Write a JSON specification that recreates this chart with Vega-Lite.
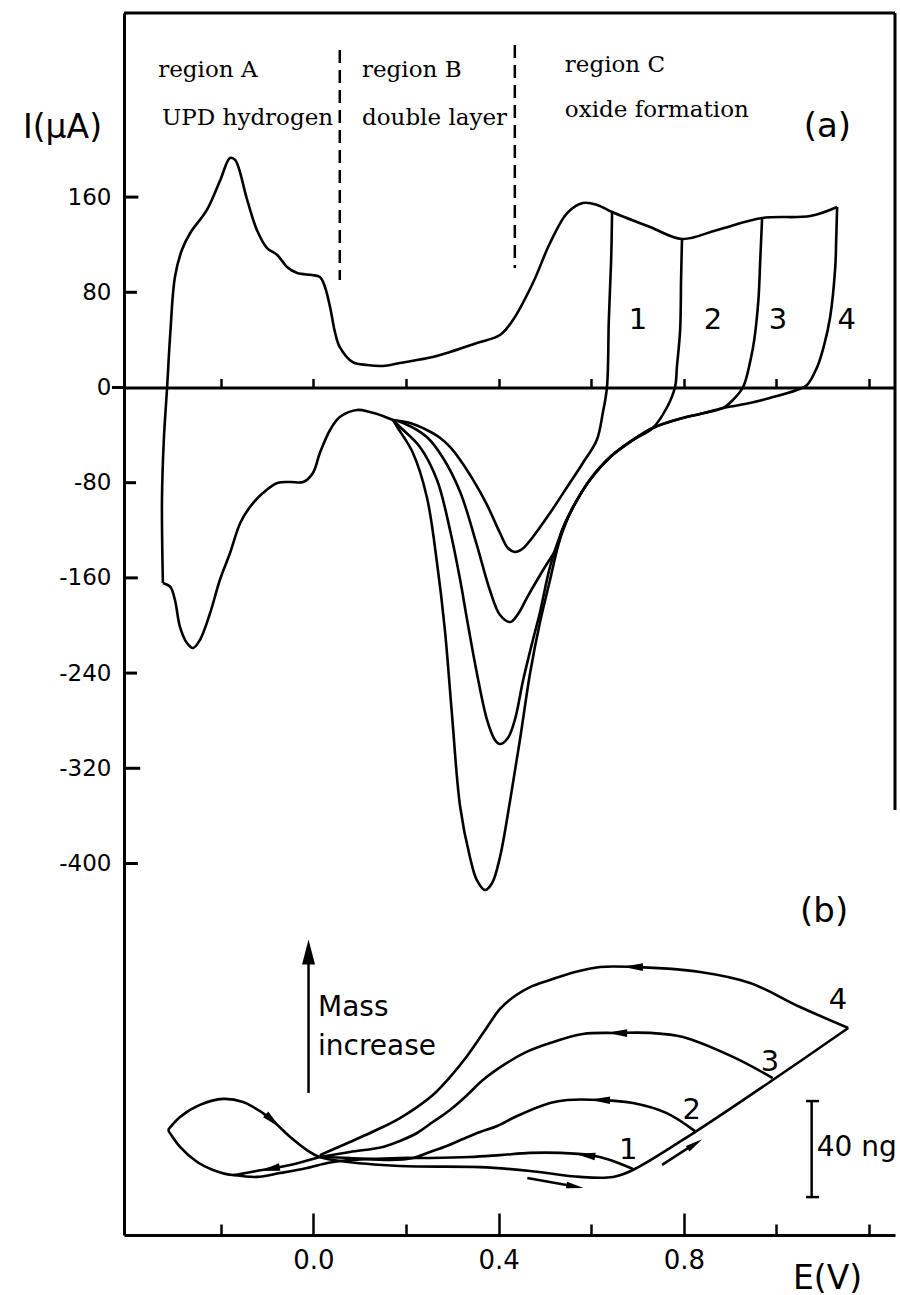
{
  "$schema": "https://vega.github.io/schema/vega-lite/v6.json",
  "width": 771,
  "height": 1222,
  "autosize": {"type": "none"},
  "padding": {"left": 124, "top": 13, "right": 5, "bottom": 60},
  "background": "white",
  "config": {"view": {"stroke": null}, "font": "DejaVu Sans"},
  "datasets": {
    "cv": [
      {"s":"an","o":0,"E":-0.325,"I":-164.3},{"s":"an","o":1,"E":-0.327,"I":-94.5},{"s":"an","o":2,"E":-0.323,"I":-44.1},{"s":"an","o":3,"E":-0.316,"I":-0.4},{"s":"an","o":4,"E":-0.309,"I":45.8},{"s":"an","o":5,"E":-0.299,"I":92.9},{"s":"an","o":6,"E":-0.284,"I":115.5},{"s":"an","o":7,"E":-0.266,"I":129.8},{"s":"an","o":8,"E":-0.230,"I":149.2},{"s":"an","o":9,"E":-0.201,"I":174.4},{"s":"an","o":10,"E":-0.180,"I":192.9},{"s":"an","o":11,"E":-0.169,"I":191.2},{"s":"an","o":12,"E":-0.143,"I":157.6},{"s":"an","o":13,"E":-0.122,"I":132.4},{"s":"an","o":14,"E":-0.100,"I":117.2},{"s":"an","o":15,"E":-0.078,"I":111.3},{"s":"an","o":16,"E":-0.057,"I":101.3},{"s":"an","o":17,"E":-0.035,"I":96.2},{"s":"an","o":18,"E":-0.003,"I":94.5},{"s":"an","o":19,"E":0.014,"I":92.9},{"s":"an","o":20,"E":0.025,"I":84.5},{"s":"an","o":21,"E":0.036,"I":67.6},{"s":"an","o":22,"E":0.047,"I":45.8},{"s":"an","o":23,"E":0.057,"I":34.0},{"s":"an","o":24,"E":0.085,"I":21.4},{"s":"an","o":25,"E":0.116,"I":18.9},{"s":"an","o":26,"E":0.150,"I":18.1},{"s":"an","o":27,"E":0.187,"I":20.6},{"s":"an","o":28,"E":0.258,"I":25.6},{"s":"an","o":29,"E":0.295,"I":29.8},{"s":"an","o":30,"E":0.353,"I":37.4},{"s":"an","o":31,"E":0.403,"I":44.1},{"s":"an","o":32,"E":0.431,"I":56.7},{"s":"an","o":33,"E":0.474,"I":87.8},{"s":"an","o":34,"E":0.511,"I":121.4},{"s":"an","o":35,"E":0.548,"I":146.6},{"s":"an","o":36,"E":0.582,"I":155.0},{"s":"an","o":37,"E":0.613,"I":153.4},{"s":"an","o":38,"E":0.645,"I":147.5},{"s":"an","o":39,"E":0.727,"I":134.9},{"s":"an","o":40,"E":0.796,"I":124.8},{"s":"an","o":41,"E":0.872,"I":132.4},{"s":"an","o":42,"E":0.969,"I":142.4},{"s":"an","o":43,"E":1.073,"I":144.1},{"s":"an","o":44,"E":1.131,"I":151.7},
      {"s":"c1","o":0,"E":0.645,"I":147.5},{"s":"c1","o":1,"E":0.643,"I":107.1},{"s":"c1","o":2,"E":0.638,"I":56.7},{"s":"c1","o":3,"E":0.634,"I":0.4},{"s":"c1","o":4,"E":0.625,"I":-21.4},{"s":"c1","o":5,"E":0.612,"I":-44.1},{"s":"c1","o":6,"E":0.582,"I":-63.4},{"s":"c1","o":7,"E":0.548,"I":-83.6},{"s":"c1","o":8,"E":0.511,"I":-105.5},{"s":"c1","o":9,"E":0.474,"I":-125.6},{"s":"c1","o":10,"E":0.451,"I":-135.7},{"s":"c1","o":11,"E":0.435,"I":-138.2},{"s":"c1","o":12,"E":0.420,"I":-134.9},{"s":"c1","o":13,"E":0.403,"I":-122.3},{"s":"c1","o":14,"E":0.375,"I":-98.7},{"s":"c1","o":15,"E":0.345,"I":-77.7},{"s":"c1","o":16,"E":0.317,"I":-60.9},{"s":"c1","o":17,"E":0.295,"I":-50.0},{"s":"c1","o":18,"E":0.274,"I":-42.4},{"s":"c1","o":19,"E":0.245,"I":-35.7},{"s":"c1","o":20,"E":0.209,"I":-29.8},{"s":"c1","o":21,"E":0.172,"I":-27.3},
      {"s":"c2","o":0,"E":0.796,"I":124.8},{"s":"c2","o":1,"E":0.794,"I":90.3},{"s":"c2","o":2,"E":0.792,"I":48.3},{"s":"c2","o":3,"E":0.785,"I":17.2},{"s":"c2","o":4,"E":0.781,"I":0.4},{"s":"c2","o":5,"E":0.764,"I":-16.4},{"s":"c2","o":6,"E":0.733,"I":-34.0},{"s":"c2","o":7,"E":0.690,"I":-44.1},{"s":"c2","o":8,"E":0.641,"I":-58.4},{"s":"c2","o":9,"E":0.597,"I":-77.7},{"s":"c2","o":10,"E":0.561,"I":-100.4},{"s":"c2","o":11,"E":0.537,"I":-119.7},{"s":"c2","o":12,"E":0.526,"I":-134.0},{"s":"c2","o":13,"E":0.496,"I":-153.4},{"s":"c2","o":14,"E":0.462,"I":-176.1},{"s":"c2","o":15,"E":0.442,"I":-190.3},{"s":"c2","o":16,"E":0.425,"I":-197.1},{"s":"c2","o":17,"E":0.403,"I":-191.2},{"s":"c2","o":18,"E":0.381,"I":-170.2},{"s":"c2","o":19,"E":0.353,"I":-132.4},{"s":"c2","o":20,"E":0.317,"I":-87.8},{"s":"c2","o":21,"E":0.280,"I":-59.2},{"s":"c2","o":22,"E":0.245,"I":-41.6},{"s":"c2","o":23,"E":0.194,"I":-29.8},{"s":"c2","o":24,"E":0.172,"I":-27.3},
      {"s":"c3","o":0,"E":0.969,"I":142.4},{"s":"c3","o":1,"E":0.965,"I":107.1},{"s":"c3","o":2,"E":0.961,"I":73.5},{"s":"c3","o":3,"E":0.952,"I":39.9},{"s":"c3","o":4,"E":0.944,"I":23.1},{"s":"c3","o":5,"E":0.928,"I":0.4},{"s":"c3","o":6,"E":0.906,"I":-10.5},{"s":"c3","o":7,"E":0.885,"I":-17.2},{"s":"c3","o":8,"E":0.835,"I":-22.3},{"s":"c3","o":9,"E":0.798,"I":-25.6},{"s":"c3","o":10,"E":0.733,"I":-34.0},{"s":"c3","o":11,"E":0.690,"I":-44.1},{"s":"c3","o":12,"E":0.641,"I":-58.4},{"s":"c3","o":13,"E":0.597,"I":-77.7},{"s":"c3","o":14,"E":0.561,"I":-100.4},{"s":"c3","o":15,"E":0.535,"I":-122.3},{"s":"c3","o":16,"E":0.511,"I":-150.8},{"s":"c3","o":17,"E":0.489,"I":-189.5},{"s":"c3","o":18,"E":0.474,"I":-212.2},{"s":"c3","o":19,"E":0.453,"I":-245.8},{"s":"c3","o":20,"E":0.435,"I":-279.4},{"s":"c3","o":21,"E":0.420,"I":-294.5},{"s":"c3","o":22,"E":0.403,"I":-299.6},{"s":"c3","o":23,"E":0.392,"I":-296.2},{"s":"c3","o":24,"E":0.375,"I":-279.4},{"s":"c3","o":25,"E":0.353,"I":-239.9},{"s":"c3","o":26,"E":0.332,"I":-195.4},{"s":"c3","o":27,"E":0.317,"I":-161.8},{"s":"c3","o":28,"E":0.295,"I":-119.7},{"s":"c3","o":29,"E":0.267,"I":-77.7},{"s":"c3","o":30,"E":0.230,"I":-50.0},{"s":"c3","o":31,"E":0.187,"I":-33.2},{"s":"c3","o":32,"E":0.172,"I":-27.3},
      {"s":"c4","o":0,"E":1.131,"I":151.7},{"s":"c4","o":1,"E":1.129,"I":123.9},{"s":"c4","o":2,"E":1.127,"I":101.3},{"s":"c4","o":3,"E":1.116,"I":59.2},{"s":"c4","o":4,"E":1.103,"I":35.7},{"s":"c4","o":5,"E":1.088,"I":17.2},{"s":"c4","o":6,"E":1.066,"I":2.1},{"s":"c4","o":7,"E":1.044,"I":-2.1},{"s":"c4","o":8,"E":0.986,"I":-8.8},{"s":"c4","o":9,"E":0.932,"I":-13.9},{"s":"c4","o":10,"E":0.885,"I":-17.2},{"s":"c4","o":11,"E":0.835,"I":-22.3},{"s":"c4","o":12,"E":0.798,"I":-25.6},{"s":"c4","o":13,"E":0.733,"I":-34.0},{"s":"c4","o":14,"E":0.690,"I":-44.1},{"s":"c4","o":15,"E":0.641,"I":-58.4},{"s":"c4","o":16,"E":0.597,"I":-77.7},{"s":"c4","o":17,"E":0.561,"I":-100.4},{"s":"c4","o":18,"E":0.537,"I":-122.3},{"s":"c4","o":19,"E":0.526,"I":-136.6},{"s":"c4","o":20,"E":0.511,"I":-161.8},{"s":"c4","o":21,"E":0.489,"I":-197.9},{"s":"c4","o":22,"E":0.468,"I":-239.9},{"s":"c4","o":23,"E":0.446,"I":-296.2},{"s":"c4","o":24,"E":0.425,"I":-346.6},{"s":"c4","o":25,"E":0.403,"I":-394.5},{"s":"c4","o":26,"E":0.386,"I":-416.4},{"s":"c4","o":27,"E":0.371,"I":-422.3},{"s":"c4","o":28,"E":0.353,"I":-413.9},{"s":"c4","o":29,"E":0.338,"I":-394.5},{"s":"c4","o":30,"E":0.317,"I":-352.5},{"s":"c4","o":31,"E":0.299,"I":-273.5},{"s":"c4","o":32,"E":0.284,"I":-203.8},{"s":"c4","o":33,"E":0.267,"I":-147.5},{"s":"c4","o":34,"E":0.245,"I":-92.0},{"s":"c4","o":35,"E":0.215,"I":-55.0},{"s":"c4","o":36,"E":0.181,"I":-33.2},{"s":"c4","o":37,"E":0.172,"I":-27.3},
      {"s":"tl","o":0,"E":0.172,"I":-27.3},{"s":"tl","o":1,"E":0.150,"I":-23.9},{"s":"tl","o":2,"E":0.122,"I":-20.6},{"s":"tl","o":3,"E":0.094,"I":-18.9},{"s":"tl","o":4,"E":0.057,"I":-24.8},{"s":"tl","o":5,"E":0.036,"I":-35.7},{"s":"tl","o":6,"E":0.014,"I":-55.0},{"s":"tl","o":7,"E":-0.001,"I":-71.8},{"s":"tl","o":8,"E":-0.022,"I":-79.4},{"s":"tl","o":9,"E":-0.050,"I":-79.4},{"s":"tl","o":10,"E":-0.078,"I":-80.3},{"s":"tl","o":11,"E":-0.109,"I":-88.7},{"s":"tl","o":12,"E":-0.137,"I":-100.4},{"s":"tl","o":13,"E":-0.158,"I":-113.9},{"s":"tl","o":14,"E":-0.180,"I":-139.1},{"s":"tl","o":15,"E":-0.202,"I":-161.8},{"s":"tl","o":16,"E":-0.223,"I":-189.5},{"s":"tl","o":17,"E":-0.245,"I":-212.2},{"s":"tl","o":18,"E":-0.260,"I":-218.9},{"s":"tl","o":19,"E":-0.273,"I":-214.7},{"s":"tl","o":20,"E":-0.288,"I":-201.3},{"s":"tl","o":21,"E":-0.299,"I":-178.6},{"s":"tl","o":22,"E":-0.309,"I":-167.6},{"s":"tl","o":23,"E":-0.325,"I":-164.3}
    ],
    "qcm": [
      {"s":"fw","o":0,"E":-0.314,"m":43.75},{"s":"fw","o":1,"E":-0.288,"m":49.2},{"s":"fw","o":2,"E":-0.245,"m":54.2},{"s":"fw","o":3,"E":-0.195,"m":56.7},{"s":"fw","o":4,"E":-0.152,"m":55.4},{"s":"fw","o":5,"E":-0.109,"m":50.8},{"s":"fw","o":6,"E":-0.087,"m":47.5},{"s":"fw","o":7,"E":-0.050,"m":40.8},{"s":"fw","o":8,"E":-0.014,"m":35.4},{"s":"fw","o":9,"E":0.014,"m":32.5},{"s":"fw","o":10,"E":0.058,"m":30.8},{"s":"fw","o":11,"E":0.187,"m":28.75},{"s":"fw","o":12,"E":0.360,"m":28.3},{"s":"fw","o":13,"E":0.468,"m":26.7},{"s":"fw","o":14,"E":0.576,"m":24.2},{"s":"fw","o":15,"E":0.647,"m":24.2},{"s":"fw","o":16,"E":0.690,"m":27.1},{"s":"fw","o":17,"E":0.824,"m":42.9},{"s":"fw","o":18,"E":0.992,"m":64.6},{"s":"fw","o":19,"E":1.155,"m":86.25},
      {"s":"r1","o":0,"E":0.690,"m":27.5},{"s":"r1","o":1,"E":0.641,"m":31.25},{"s":"r1","o":2,"E":0.597,"m":33.3},{"s":"r1","o":3,"E":0.533,"m":34.2},{"s":"r1","o":4,"E":0.468,"m":34.2},{"s":"r1","o":5,"E":0.403,"m":33.3},{"s":"r1","o":6,"E":0.338,"m":32.5},{"s":"r1","o":7,"E":0.252,"m":32.1},{"s":"r1","o":8,"E":0.187,"m":32.1},{"s":"r1","o":9,"E":0.122,"m":31.7},{"s":"r1","o":10,"E":0.058,"m":30.8},{"s":"r1","o":11,"E":0.030,"m":30.0},{"s":"r1","o":12,"E":-0.014,"m":27.9},{"s":"r1","o":13,"E":-0.072,"m":25.8},{"s":"r1","o":14,"E":-0.122,"m":24.2},{"s":"r1","o":15,"E":-0.173,"m":25.0},
      {"s":"r2","o":0,"E":0.824,"m":43.3},{"s":"r2","o":1,"E":0.763,"m":50.8},{"s":"r2","o":2,"E":0.690,"m":55.0},{"s":"r2","o":3,"E":0.619,"m":56.25},{"s":"r2","o":4,"E":0.548,"m":56.25},{"s":"r2","o":5,"E":0.511,"m":55.0},{"s":"r2","o":6,"E":0.440,"m":49.6},{"s":"r2","o":7,"E":0.397,"m":45.4},{"s":"r2","o":8,"E":0.360,"m":42.9},{"s":"r2","o":9,"E":0.323,"m":40.0},{"s":"r2","o":10,"E":0.288,"m":37.1},{"s":"r2","o":11,"E":0.252,"m":34.6},{"s":"r2","o":12,"E":0.215,"m":32.1},{"s":"r2","o":13,"E":0.166,"m":31.25},{"s":"r2","o":14,"E":0.079,"m":32.1},{"s":"r2","o":15,"E":0.014,"m":32.5},
      {"s":"r3","o":0,"E":0.992,"m":65.4},{"s":"r3","o":1,"E":0.906,"m":74.2},{"s":"r3","o":2,"E":0.798,"m":82.5},{"s":"r3","o":3,"E":0.727,"m":84.2},{"s":"r3","o":4,"E":0.656,"m":84.2},{"s":"r3","o":5,"E":0.582,"m":83.75},{"s":"r3","o":6,"E":0.511,"m":80.0},{"s":"r3","o":7,"E":0.457,"m":76.0},{"s":"r3","o":8,"E":0.412,"m":71.0},{"s":"r3","o":9,"E":0.366,"m":64.6},{"s":"r3","o":10,"E":0.332,"m":58.3},{"s":"r3","o":11,"E":0.295,"m":52.1},{"s":"r3","o":12,"E":0.258,"m":47.1},{"s":"r3","o":13,"E":0.224,"m":42.5},{"s":"r3","o":14,"E":0.187,"m":39.2},{"s":"r3","o":15,"E":0.150,"m":36.7},{"s":"r3","o":16,"E":0.079,"m":34.6},{"s":"r3","o":17,"E":0.014,"m":32.5},
      {"s":"r4","o":0,"E":1.155,"m":86.25},{"s":"r4","o":1,"E":1.051,"m":95.0},{"s":"r4","o":2,"E":0.943,"m":105.0},{"s":"r4","o":3,"E":0.835,"m":109.6},{"s":"r4","o":4,"E":0.690,"m":111.7},{"s":"r4","o":5,"E":0.619,"m":111.7},{"s":"r4","o":6,"E":0.565,"m":109.6},{"s":"r4","o":7,"E":0.511,"m":106.25},{"s":"r4","o":8,"E":0.468,"m":103.3},{"s":"r4","o":9,"E":0.435,"m":99.6},{"s":"r4","o":10,"E":0.403,"m":94.2},{"s":"r4","o":11,"E":0.371,"m":85.4},{"s":"r4","o":12,"E":0.332,"m":74.6},{"s":"r4","o":13,"E":0.295,"m":65.8},{"s":"r4","o":14,"E":0.258,"m":58.3},{"s":"r4","o":15,"E":0.224,"m":53.3},{"s":"r4","o":16,"E":0.187,"m":48.75},{"s":"r4","o":17,"E":0.150,"m":45.0},{"s":"r4","o":18,"E":0.079,"m":38.75},{"s":"r4","o":19,"E":0.014,"m":33.3},
      {"s":"lo","o":0,"E":0.014,"m":32.5},{"s":"lo","o":1,"E":-0.050,"m":29.2},{"s":"lo","o":2,"E":-0.100,"m":27.5},{"s":"lo","o":3,"E":-0.158,"m":25.4},{"s":"lo","o":4,"E":-0.173,"m":25.0},{"s":"lo","o":5,"E":-0.217,"m":27.1},{"s":"lo","o":6,"E":-0.251,"m":30.4},{"s":"lo","o":7,"E":-0.288,"m":36.7},{"s":"lo","o":8,"E":-0.314,"m":43.75}
    ],
    "frame": [
      {"E":-0.409,"E2":1.256,"I":314.7,"I2":314.7},
      {"E":1.256,"E2":1.256,"I":314.7,"I2":-355},
      {"E":-0.409,"E2":-0.378,"I":160,"I2":160},
      {"E":-0.409,"E2":-0.381,"I":80,"I2":80},
      {"E":-0.435,"E2":-0.409,"I":0,"I2":0},
      {"E":-0.409,"E2":-0.383,"I":-80,"I2":-80},
      {"E":-0.409,"E2":-0.379,"I":-160,"I2":-160},
      {"E":-0.409,"E2":-0.381,"I":-240,"I2":-240},
      {"E":-0.409,"E2":-0.374,"I":-320,"I2":-320},
      {"E":-0.409,"E2":-0.379,"I":-400,"I2":-400}
    ],
    "dash": [
      {"E":0.057,"I":283.6,"I2":90.3},
      {"E":0.435,"I":287.8,"I2":100.4}
    ],
    "regs": [
      {"E":-0.335,"I":266.8,"t":"region A"},
      {"E":-0.327,"I":226.5,"t":"UPD hydrogen"},
      {"E":0.105,"I":266.8,"t":"region B"},
      {"E":0.105,"I":226.5,"t":"double layer"},
      {"E":0.543,"I":271.0,"t":"region C"},
      {"E":0.543,"I":233.2,"t":"oxide formation"}
    ],
    "numa": [
      {"E":0.701,"I":56.7,"t":"1"},
      {"E":0.863,"I":56.7,"t":"2"},
      {"E":1.003,"I":56.7,"t":"3"},
      {"E":1.152,"I":56.7,"t":"4"}
    ],
    "panels": [
      {"E":1.110,"I":218.9,"t":"(a)"},
      {"E":1.103,"I":-440.8,"t":"(b)"}
    ],
    "numb": [
      {"E":0.680,"m":35.4,"t":"1"},
      {"E":0.817,"m":52.1,"t":"2"},
      {"E":0.986,"m":72.1,"t":"3"},
      {"E":1.133,"m":97.9,"t":"4"}
    ],
    "labb": [
      {"E":0.010,"m":94.6,"t":"Mass"},
      {"E":0.010,"m":78.3,"t":"increase"},
      {"E":1.087,"m":36.25,"t":"40 ng"}
    ],
    "rules": [
      {"E":1.076,"E2":1.076,"m":15.8,"m2":55.8},
      {"E":1.064,"E2":1.092,"m":15.8,"m2":15.8},
      {"E":1.064,"E2":1.092,"m":55.8,"m2":55.8},
      {"E":0.462,"E2":0.559,"m":23.75,"m2":20.4},
      {"E":0.753,"E2":0.813,"m":29.2,"m2":36.7},
      {"E":-0.0105,"E2":-0.0105,"m":59.2,"m2":113}
    ],
    "heads": [
      {"k":"L","E":0.690,"m":111.7},
      {"k":"L","E":0.656,"m":84.2},
      {"k":"L","E":0.619,"m":56.25},
      {"k":"L1","E":0.587,"m":33.3},
      {"k":"LO","E":-0.094,"m":27.5},
      {"k":"DR","E":-0.087,"m":47.5},
      {"k":"A1","E":0.565,"m":20.2},
      {"k":"A2","E":0.824,"m":37.9},
      {"k":"UP","E":-0.0105,"m":117.9}
    ]
  },
  "layer": [
    {
      "data": {"name": "cv"},
      "mark": {"type": "line", "color": "black", "strokeWidth": 2.6, "interpolate": "catmull-rom"},
      "encoding": {
        "x": {"field": "E", "type": "quantitative", "scale": {"domain": [-0.409, 1.256], "nice": false, "zero": false},
          "axis": {"orient": "bottom", "values": [-0.2, 0, 0.2, 0.4, 0.6, 0.8, 1, 1.2],
            "labelExpr": "datum.value == 0 ? '0.0' : datum.value == 0.4 ? '0.4' : datum.value == 0.8 ? '0.8' : ''",
            "tickSize": {"condition": {"test": "datum.value == 0 || datum.value == 0.4 || datum.value == 0.8", "value": -22}, "value": -11},
            "tickWidth": 2.5, "tickColor": "black", "domainColor": "black", "domainWidth": 3, "grid": false,
            "labelFont": "DejaVu Sans", "labelFontSize": 26, "labelColor": "black", "labelPadding": 34, "labelBaseline": "top",
            "title": "E(V)", "titleFont": "DejaVu Sans", "titleFontSize": 33, "titleFontWeight": "normal", "titleColor": "black",
            "titleX": 703, "titleY": 43, "titleAlign": "center", "titleBaseline": "middle"}},
        "y": {"field": "I", "type": "quantitative", "scale": {"domain": [-712.2, 314.7], "nice": false, "zero": false},
          "axis": {"orient": "left", "values": [-400, -320, -240, -160, -80, 0, 80, 160],
            "labelExpr": "datum.value < 0 ? '-' + abs(datum.value) : '' + datum.value",
            "ticks": false, "domainColor": "black", "domainWidth": 3, "grid": false,
            "labelFont": "DejaVu Sans", "labelFontSize": 23, "labelColor": "black", "labelPadding": 13,
            "title": "I(μA)", "titleFont": "DejaVu Sans", "titleFontSize": 33, "titleFontWeight": "normal", "titleColor": "black",
            "titleAngle": 0, "titleX": -62, "titleY": 114, "titleAlign": "center", "titleBaseline": "middle"}},
        "detail": {"field": "s"},
        "order": {"field": "o", "type": "quantitative"}
      }
    },
    {
      "data": {"name": "frame"},
      "mark": {"type": "rule", "color": "black", "strokeWidth": 3},
      "encoding": {
        "x": {"field": "E", "type": "quantitative", "scale": {"domain": [-0.409, 1.256], "nice": false, "zero": false},
          "axis": {"orient": "bottom", "offset": -847.5, "values": [-0.2, 0, 0.2, 0.4, 0.6, 0.8, 1, 1.2], "labels": false,
            "tickSize": -9, "tickWidth": 2.5, "tickColor": "black", "domainColor": "black", "domainWidth": 3, "grid": false, "title": null}},
        "x2": {"field": "E2"},
        "y": {"field": "I", "type": "quantitative", "scale": {"domain": [-712.2, 314.7], "nice": false, "zero": false}, "axis": null},
        "y2": {"field": "I2"}
      }
    },
    {
      "data": {"name": "dash"},
      "mark": {"type": "rule", "color": "black", "strokeWidth": 2.5, "strokeDash": [13, 7]},
      "encoding": {
        "x": {"field": "E", "type": "quantitative", "scale": {"domain": [-0.409, 1.256], "nice": false, "zero": false}, "axis": null},
        "y": {"field": "I", "type": "quantitative", "scale": {"domain": [-712.2, 314.7], "nice": false, "zero": false}, "axis": null},
        "y2": {"field": "I2"}
      }
    },
    {
      "data": {"name": "regs"},
      "mark": {"type": "text", "font": "DejaVu Serif", "fontSize": 23, "align": "left", "baseline": "middle", "color": "black"},
      "encoding": {
        "x": {"field": "E", "type": "quantitative", "scale": {"domain": [-0.409, 1.256], "nice": false, "zero": false}, "axis": null},
        "y": {"field": "I", "type": "quantitative", "scale": {"domain": [-712.2, 314.7], "nice": false, "zero": false}, "axis": null},
        "text": {"field": "t"}
      }
    },
    {
      "data": {"name": "numa"},
      "mark": {"type": "text", "font": "DejaVu Sans", "fontSize": 29, "align": "center", "baseline": "middle", "color": "black"},
      "encoding": {
        "x": {"field": "E", "type": "quantitative", "scale": {"domain": [-0.409, 1.256], "nice": false, "zero": false}, "axis": null},
        "y": {"field": "I", "type": "quantitative", "scale": {"domain": [-712.2, 314.7], "nice": false, "zero": false}, "axis": null},
        "text": {"field": "t"}
      }
    },
    {
      "data": {"name": "panels"},
      "mark": {"type": "text", "font": "DejaVu Sans", "fontSize": 34, "align": "center", "baseline": "middle", "color": "black"},
      "encoding": {
        "x": {"field": "E", "type": "quantitative", "scale": {"domain": [-0.409, 1.256], "nice": false, "zero": false}, "axis": null},
        "y": {"field": "I", "type": "quantitative", "scale": {"domain": [-712.2, 314.7], "nice": false, "zero": false}, "axis": null},
        "text": {"field": "t"}
      }
    },
    {
      "data": {"name": "qcm"},
      "mark": {"type": "line", "color": "black", "strokeWidth": 2.6, "interpolate": "catmull-rom"},
      "encoding": {
        "x": {"field": "E", "type": "quantitative", "scale": {"domain": [-0.409, 1.256], "nice": false, "zero": false}, "axis": null},
        "y": {"field": "m", "type": "quantitative", "scale": {"domain": [0, 509.17], "nice": false, "zero": false}, "axis": null},
        "detail": {"field": "s"},
        "order": {"field": "o", "type": "quantitative"}
      }
    },
    {
      "data": {"name": "rules"},
      "mark": {"type": "rule", "color": "black", "strokeWidth": 2.5},
      "encoding": {
        "x": {"field": "E", "type": "quantitative", "scale": {"domain": [-0.409, 1.256], "nice": false, "zero": false}, "axis": null},
        "x2": {"field": "E2"},
        "y": {"field": "m", "type": "quantitative", "scale": {"domain": [0, 509.17], "nice": false, "zero": false}, "axis": null},
        "y2": {"field": "m2"}
      }
    },
    {
      "data": {"name": "heads"},
      "transform": [{"filter": "datum.k == 'L'"}],
      "mark": {"type": "point", "shape": "M1,0L-1,-0.38L-1,0.38Z", "filled": true, "color": "black", "opacity": 1, "size": 400, "angle": 181},
      "encoding": {
        "x": {"field": "E", "type": "quantitative", "scale": {"domain": [-0.409, 1.256], "nice": false, "zero": false}, "axis": null},
        "y": {"field": "m", "type": "quantitative", "scale": {"domain": [0, 509.17], "nice": false, "zero": false}, "axis": null}
      }
    },
    {
      "data": {"name": "heads"},
      "transform": [{"filter": "datum.k == 'L1'"}],
      "mark": {"type": "point", "shape": "M1,0L-1,-0.38L-1,0.38Z", "filled": true, "color": "black", "opacity": 1, "size": 400, "angle": 188},
      "encoding": {
        "x": {"field": "E", "type": "quantitative", "scale": {"domain": [-0.409, 1.256], "nice": false, "zero": false}, "axis": null},
        "y": {"field": "m", "type": "quantitative", "scale": {"domain": [0, 509.17], "nice": false, "zero": false}, "axis": null}
      }
    },
    {
      "data": {"name": "heads"},
      "transform": [{"filter": "datum.k == 'LO'"}],
      "mark": {"type": "point", "shape": "M1,0L-1,-0.38L-1,0.38Z", "filled": true, "color": "black", "opacity": 1, "size": 400, "angle": 169},
      "encoding": {
        "x": {"field": "E", "type": "quantitative", "scale": {"domain": [-0.409, 1.256], "nice": false, "zero": false}, "axis": null},
        "y": {"field": "m", "type": "quantitative", "scale": {"domain": [0, 509.17], "nice": false, "zero": false}, "axis": null}
      }
    },
    {
      "data": {"name": "heads"},
      "transform": [{"filter": "datum.k == 'DR'"}],
      "mark": {"type": "point", "shape": "M1,0L-1,-0.38L-1,0.38Z", "filled": true, "color": "black", "opacity": 1, "size": 400, "angle": 42},
      "encoding": {
        "x": {"field": "E", "type": "quantitative", "scale": {"domain": [-0.409, 1.256], "nice": false, "zero": false}, "axis": null},
        "y": {"field": "m", "type": "quantitative", "scale": {"domain": [0, 509.17], "nice": false, "zero": false}, "axis": null}
      }
    },
    {
      "data": {"name": "heads"},
      "transform": [{"filter": "datum.k == 'A1'"}],
      "mark": {"type": "point", "shape": "M1,0L-1,-0.38L-1,0.38Z", "filled": true, "color": "black", "opacity": 1, "size": 300, "angle": 10},
      "encoding": {
        "x": {"field": "E", "type": "quantitative", "scale": {"domain": [-0.409, 1.256], "nice": false, "zero": false}, "axis": null},
        "y": {"field": "m", "type": "quantitative", "scale": {"domain": [0, 509.17], "nice": false, "zero": false}, "axis": null}
      }
    },
    {
      "data": {"name": "heads"},
      "transform": [{"filter": "datum.k == 'A2'"}],
      "mark": {"type": "point", "shape": "M1,0L-1,-0.38L-1,0.38Z", "filled": true, "color": "black", "opacity": 1, "size": 300, "angle": 327},
      "encoding": {
        "x": {"field": "E", "type": "quantitative", "scale": {"domain": [-0.409, 1.256], "nice": false, "zero": false}, "axis": null},
        "y": {"field": "m", "type": "quantitative", "scale": {"domain": [0, 509.17], "nice": false, "zero": false}, "axis": null}
      }
    },
    {
      "data": {"name": "heads"},
      "transform": [{"filter": "datum.k == 'UP'"}],
      "mark": {"type": "point", "shape": "M0,-1L0.52,1L-0.52,1Z", "filled": true, "color": "black", "opacity": 1, "size": 625},
      "encoding": {
        "x": {"field": "E", "type": "quantitative", "scale": {"domain": [-0.409, 1.256], "nice": false, "zero": false}, "axis": null},
        "y": {"field": "m", "type": "quantitative", "scale": {"domain": [0, 509.17], "nice": false, "zero": false}, "axis": null}
      }
    },
    {
      "data": {"name": "numb"},
      "mark": {"type": "text", "font": "DejaVu Sans", "fontSize": 29, "align": "center", "baseline": "middle", "color": "black"},
      "encoding": {
        "x": {"field": "E", "type": "quantitative", "scale": {"domain": [-0.409, 1.256], "nice": false, "zero": false}, "axis": null},
        "y": {"field": "m", "type": "quantitative", "scale": {"domain": [0, 509.17], "nice": false, "zero": false}, "axis": null},
        "text": {"field": "t"}
      }
    },
    {
      "data": {"name": "labb"},
      "mark": {"type": "text", "font": "DejaVu Sans", "fontSize": 28, "align": "left", "baseline": "middle", "color": "black"},
      "encoding": {
        "x": {"field": "E", "type": "quantitative", "scale": {"domain": [-0.409, 1.256], "nice": false, "zero": false}, "axis": null},
        "y": {"field": "m", "type": "quantitative", "scale": {"domain": [0, 509.17], "nice": false, "zero": false}, "axis": null},
        "text": {"field": "t"}
      }
    }
  ],
  "resolve": {"scale": {"y": "independent"}, "axis": {"x": "independent"}}
}
